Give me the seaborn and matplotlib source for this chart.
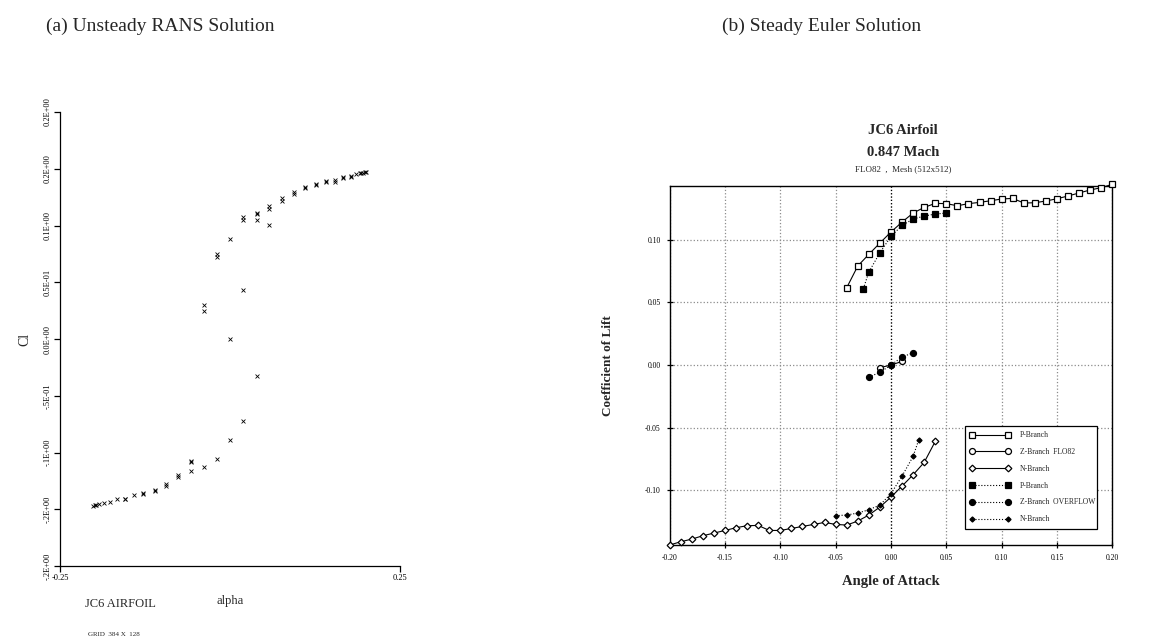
import numpy as np
import pandas as pd
import matplotlib
matplotlib.use("Agg")
import matplotlib.pyplot as plt
import seaborn as sns

# ---------------- data: (a) unsteady RANS ----------------
rans_alpha = [
    -0.0196, -0.0196, 0.0, 0.0196, 0.0196, 0.039, 0.039, 0.039,
    0.058, 0.058, 0.058, 0.0765, 0.0765, 0.0946, 0.0946, 0.111, 0.111,
    0.1265, 0.1265, 0.141, 0.141, 0.154, 0.154, 0.1667, 0.1667,
    0.1775, 0.1775, 0.186, 0.191, 0.193, 0.196, 0.198, 0.200,
    0.039, 0.0196, 0.0, -0.0387, -0.0387, 0.0196,
    0.0, -0.0196, -0.0387, -0.058, -0.058, -0.058, -0.077, -0.077,
    -0.0946, -0.0946, -0.111, -0.111, -0.1275, -0.1275, -0.1416,
    -0.155, -0.155, -0.1667, -0.177, -0.186, -0.193, -0.197, -0.199, -0.2015,
]
rans_cl = [
    0.0747, 0.0722, 0.0879, 0.1072, 0.1052, 0.1114, 0.1100, 0.1050,
    0.1173, 0.1148, 0.1005, 0.1240, 0.1212, 0.1299, 0.1278, 0.1343, 0.1330,
    0.1362, 0.1355, 0.1396, 0.1380, 0.1400, 0.1386, 0.1426, 0.1420,
    0.1432, 0.1428, 0.1455, 0.1460, 0.1463, 0.1466, 0.1470, 0.1472,
    -0.0326, 0.0432, 0.0, 0.0300, 0.0247, -0.0720,
    -0.0888, -0.1058, -0.1126, -0.1079, -0.1085, -0.1161, -0.1197, -0.1217,
    -0.1278, -0.1296, -0.1330, -0.1338, -0.1358, -0.1364, -0.1376,
    -0.1407, -0.1413, -0.1410, -0.1435, -0.1443, -0.1455, -0.1460, -0.1465, -0.1473,
]
rans_yticks = [-0.2, -0.15, -0.1, -0.05, 0.0, 0.05, 0.1, 0.15, 0.2]
rans_yticklabels = ["-.2E+00", "-.2E+00", "-.1E+00", "-.5E-01", "0.0E+00",
                    "0.5E-01", "0.1E+00", "0.2E+00", "0.2E+00"]
rans_xticks = [-0.25, 0.25]
rans_xticklabels = ["-0.25", "0.25"]

# ---------------- data: (b) steady Euler ----------------
p_flo_alpha = [-0.04, -0.03, -0.02, -0.01, 0.0, 0.01, 0.02, 0.03, 0.04, 0.05, 0.06,
               0.07, 0.08, 0.09, 0.10, 0.11, 0.12, 0.13, 0.14, 0.15, 0.16, 0.17,
               0.18, 0.19, 0.20]
p_flo_cl = [0.0617, 0.0790, 0.0883, 0.0973, 0.1061, 0.1140, 0.1212, 0.1257, 0.1289,
            0.1287, 0.1270, 0.1287, 0.1297, 0.1310, 0.1324, 0.1329, 0.1292, 0.1294,
            0.1308, 0.1326, 0.1348, 0.1372, 0.1396, 0.1414, 0.1441]
z_flo_alpha = [-0.01, 0.0, 0.01]
z_flo_cl = [-0.0021, 0.0, 0.0029]
n_flo_alpha = [-0.20, -0.19, -0.18, -0.17, -0.16, -0.15, -0.14, -0.13, -0.12, -0.11,
               -0.10, -0.09, -0.08, -0.07, -0.06, -0.05, -0.04, -0.03, -0.02, -0.01,
               0.0, 0.01, 0.02, 0.03, 0.04]
n_flo_cl = [-0.1435, -0.1409, -0.1388, -0.1361, -0.1340, -0.1319, -0.1297, -0.1281,
            -0.1279, -0.1319, -0.1319, -0.1303, -0.1287, -0.1271, -0.1255, -0.1271,
            -0.1276, -0.1244, -0.1196, -0.1132, -0.1053, -0.0965, -0.0875, -0.0776,
            -0.0609]
p_ovf_alpha = [-0.025, -0.02, -0.01, 0.0, 0.01, 0.02, 0.03, 0.04, 0.05]
p_ovf_cl = [0.0609, 0.0742, 0.0896, 0.1026, 0.1114, 0.1164, 0.1188, 0.1204, 0.1212]
z_ovf_alpha = [-0.02, -0.01, 0.0, 0.01, 0.02]
z_ovf_cl = [-0.0096, -0.0058, 0.0, 0.0064, 0.0098]
n_ovf_alpha = [-0.05, -0.04, -0.03, -0.02, -0.01, 0.0, 0.01, 0.02, 0.025]
n_ovf_cl = [-0.1201, -0.1196, -0.1180, -0.1154, -0.1116, -0.1026, -0.0885, -0.0728,
            -0.0598]
euler_xticks = [-0.20, -0.15, -0.10, -0.05, 0.0, 0.05, 0.10, 0.15, 0.20]
euler_yticks = [-0.10, -0.05, 0.0, 0.05, 0.10]

# ---------------- style ----------------
sns.set_style("white")
plt.rcParams["font.family"] = ["Liberation Serif", "DejaVu Serif"]

W, H = 1150, 639
fig = plt.figure(figsize=(W / 100, H / 100), dpi=100)


def fx(px):
    return px / W


def fy(py):
    return 1 - py / H


# ---------------- (a) ----------------
axL = fig.add_axes([fx(60), fy(566), fx(400) - fx(60), fy(112) - fy(566)])
df_a = pd.DataFrame({"alpha": rans_alpha, "Cl": rans_cl})
sns.scatterplot(data=df_a, x="alpha", y="Cl", ax=axL, marker="x", s=8,
                color="black", linewidth=0.6, legend=False, clip_on=False)
axL.set_xlim(-0.25, 0.25)
axL.set_ylim(-0.2, 0.2)
axL.set_xticks(rans_xticks)
axL.set_xticklabels(rans_xticklabels, fontsize=6)
axL.set_yticks(rans_yticks)
axL.set_yticklabels(rans_yticklabels, fontsize=6, rotation=90, va="center")
axL.tick_params(axis="both", direction="out", length=4, width=0.9, colors="black",
                pad=2, bottom=True, left=True)
axL.set_xlabel("")
axL.set_ylabel("")
for s in ["top", "right"]:
    axL.spines[s].set_visible(False)
for s in ["left", "bottom"]:
    axL.spines[s].set_color("black")
    axL.spines[s].set_linewidth(0.9)

fig.text(fx(25), fy(339), "Cl", rotation=90, ha="center", va="center", fontsize=10)
fig.text(fx(120), fy(604), "JC6 AIRFOIL", ha="center", va="center", fontsize=9)
fig.text(fx(230), fy(601), "alpha", ha="center", va="center", fontsize=9)
fig.text(fx(88), fy(634), "GRID  384 X  128", ha="left", va="center", fontsize=5)

# ---------------- (b) ----------------
axR = fig.add_axes([fx(669.7), fy(545), fx(1112.3) - fx(669.7), fy(185.7) - fy(545)])

series = [
    (p_flo_alpha, p_flo_cl, "P-Branch", "s", 4.8, "white", "-"),
    (z_flo_alpha, z_flo_cl, "Z-Branch  FLO82", "o", 4.3, "white", "-"),
    (n_flo_alpha, n_flo_cl, "N-Branch", "D", 3.4, "white", "-"),
    (p_ovf_alpha, p_ovf_cl, "P-Branch", "s", 4.8, "black", ":"),
    (z_ovf_alpha, z_ovf_cl, "Z-Branch  OVERFLOW", "o", 4.3, "black", ":"),
    (n_ovf_alpha, n_ovf_cl, "N-Branch", "D", 2.6, "black", ":"),
]
for xs, ys, lab, mk, ms, fc, ls in series:
    d = pd.DataFrame({"a": xs, "c": ys})
    sns.lineplot(data=d, x="a", y="c", ax=axR, sort=False, estimator=None,
                 color="black", linestyle=ls, linewidth=0.8, marker=mk,
                 markersize=ms, markerfacecolor=fc, markeredgecolor="black",
                 markeredgewidth=0.9, label=lab, clip_on=False, zorder=3)

axR.set_xlim(-0.2, 0.2)
axR.set_ylim(-0.1435, 0.143)
axR.set_xticks(euler_xticks)
axR.set_xticklabels([f"{v:.2f}" for v in euler_xticks], fontsize=5.5)
axR.set_yticks(euler_yticks)
axR.set_yticklabels([f"{v:.2f}" for v in euler_yticks], fontsize=5.5)
axR.tick_params(axis="both", direction="inout", length=5, width=0.9, colors="black",
                pad=4, bottom=True, left=True)
axR.grid(True, linestyle=":", color="#8c8c8c", linewidth=0.9)
axR.axvline(0.0, color="black", linestyle=":", linewidth=0.9, zorder=1)
for s in axR.spines.values():
    s.set_color("black")
    s.set_linewidth(1.0)
axR.set_xlabel("Angle of Attack", fontsize=10.5, fontweight="bold", labelpad=9)
axR.set_ylabel("Coefficient of Lift", fontsize=9.5, fontweight="bold", labelpad=22)

leg = axR.legend(loc="lower left", bbox_to_anchor=(0.658, 0.035, 0.315, 0.26),
                 mode="expand", numpoints=2, fontsize=5.5, handlelength=5.2,
                 labelspacing=1.15, borderpad=0.7, handletextpad=1.3,
                 fancybox=False, framealpha=1, edgecolor="black")
leg.get_frame().set_linewidth(0.9)

fig.text(fx(903), fy(130), "JC6 Airfoil", ha="center", va="center", fontsize=10.5,
         fontweight="bold")
fig.text(fx(903), fy(152), "0.847 Mach", ha="center", va="center", fontsize=10.5,
         fontweight="bold")
fig.text(fx(903), fy(169), "FLO82  ,  Mesh (512x512)", ha="center", va="center",
         fontsize=6.5)

# ---------------- panel captions ----------------
fig.text(fx(46), fy(26), "(a) Unsteady RANS Solution", ha="left", va="center",
         fontsize=14)
fig.text(fx(722), fy(26), "(b) Steady Euler Solution", ha="left", va="center",
         fontsize=14)

fig.savefig("out.png", dpi=100)
